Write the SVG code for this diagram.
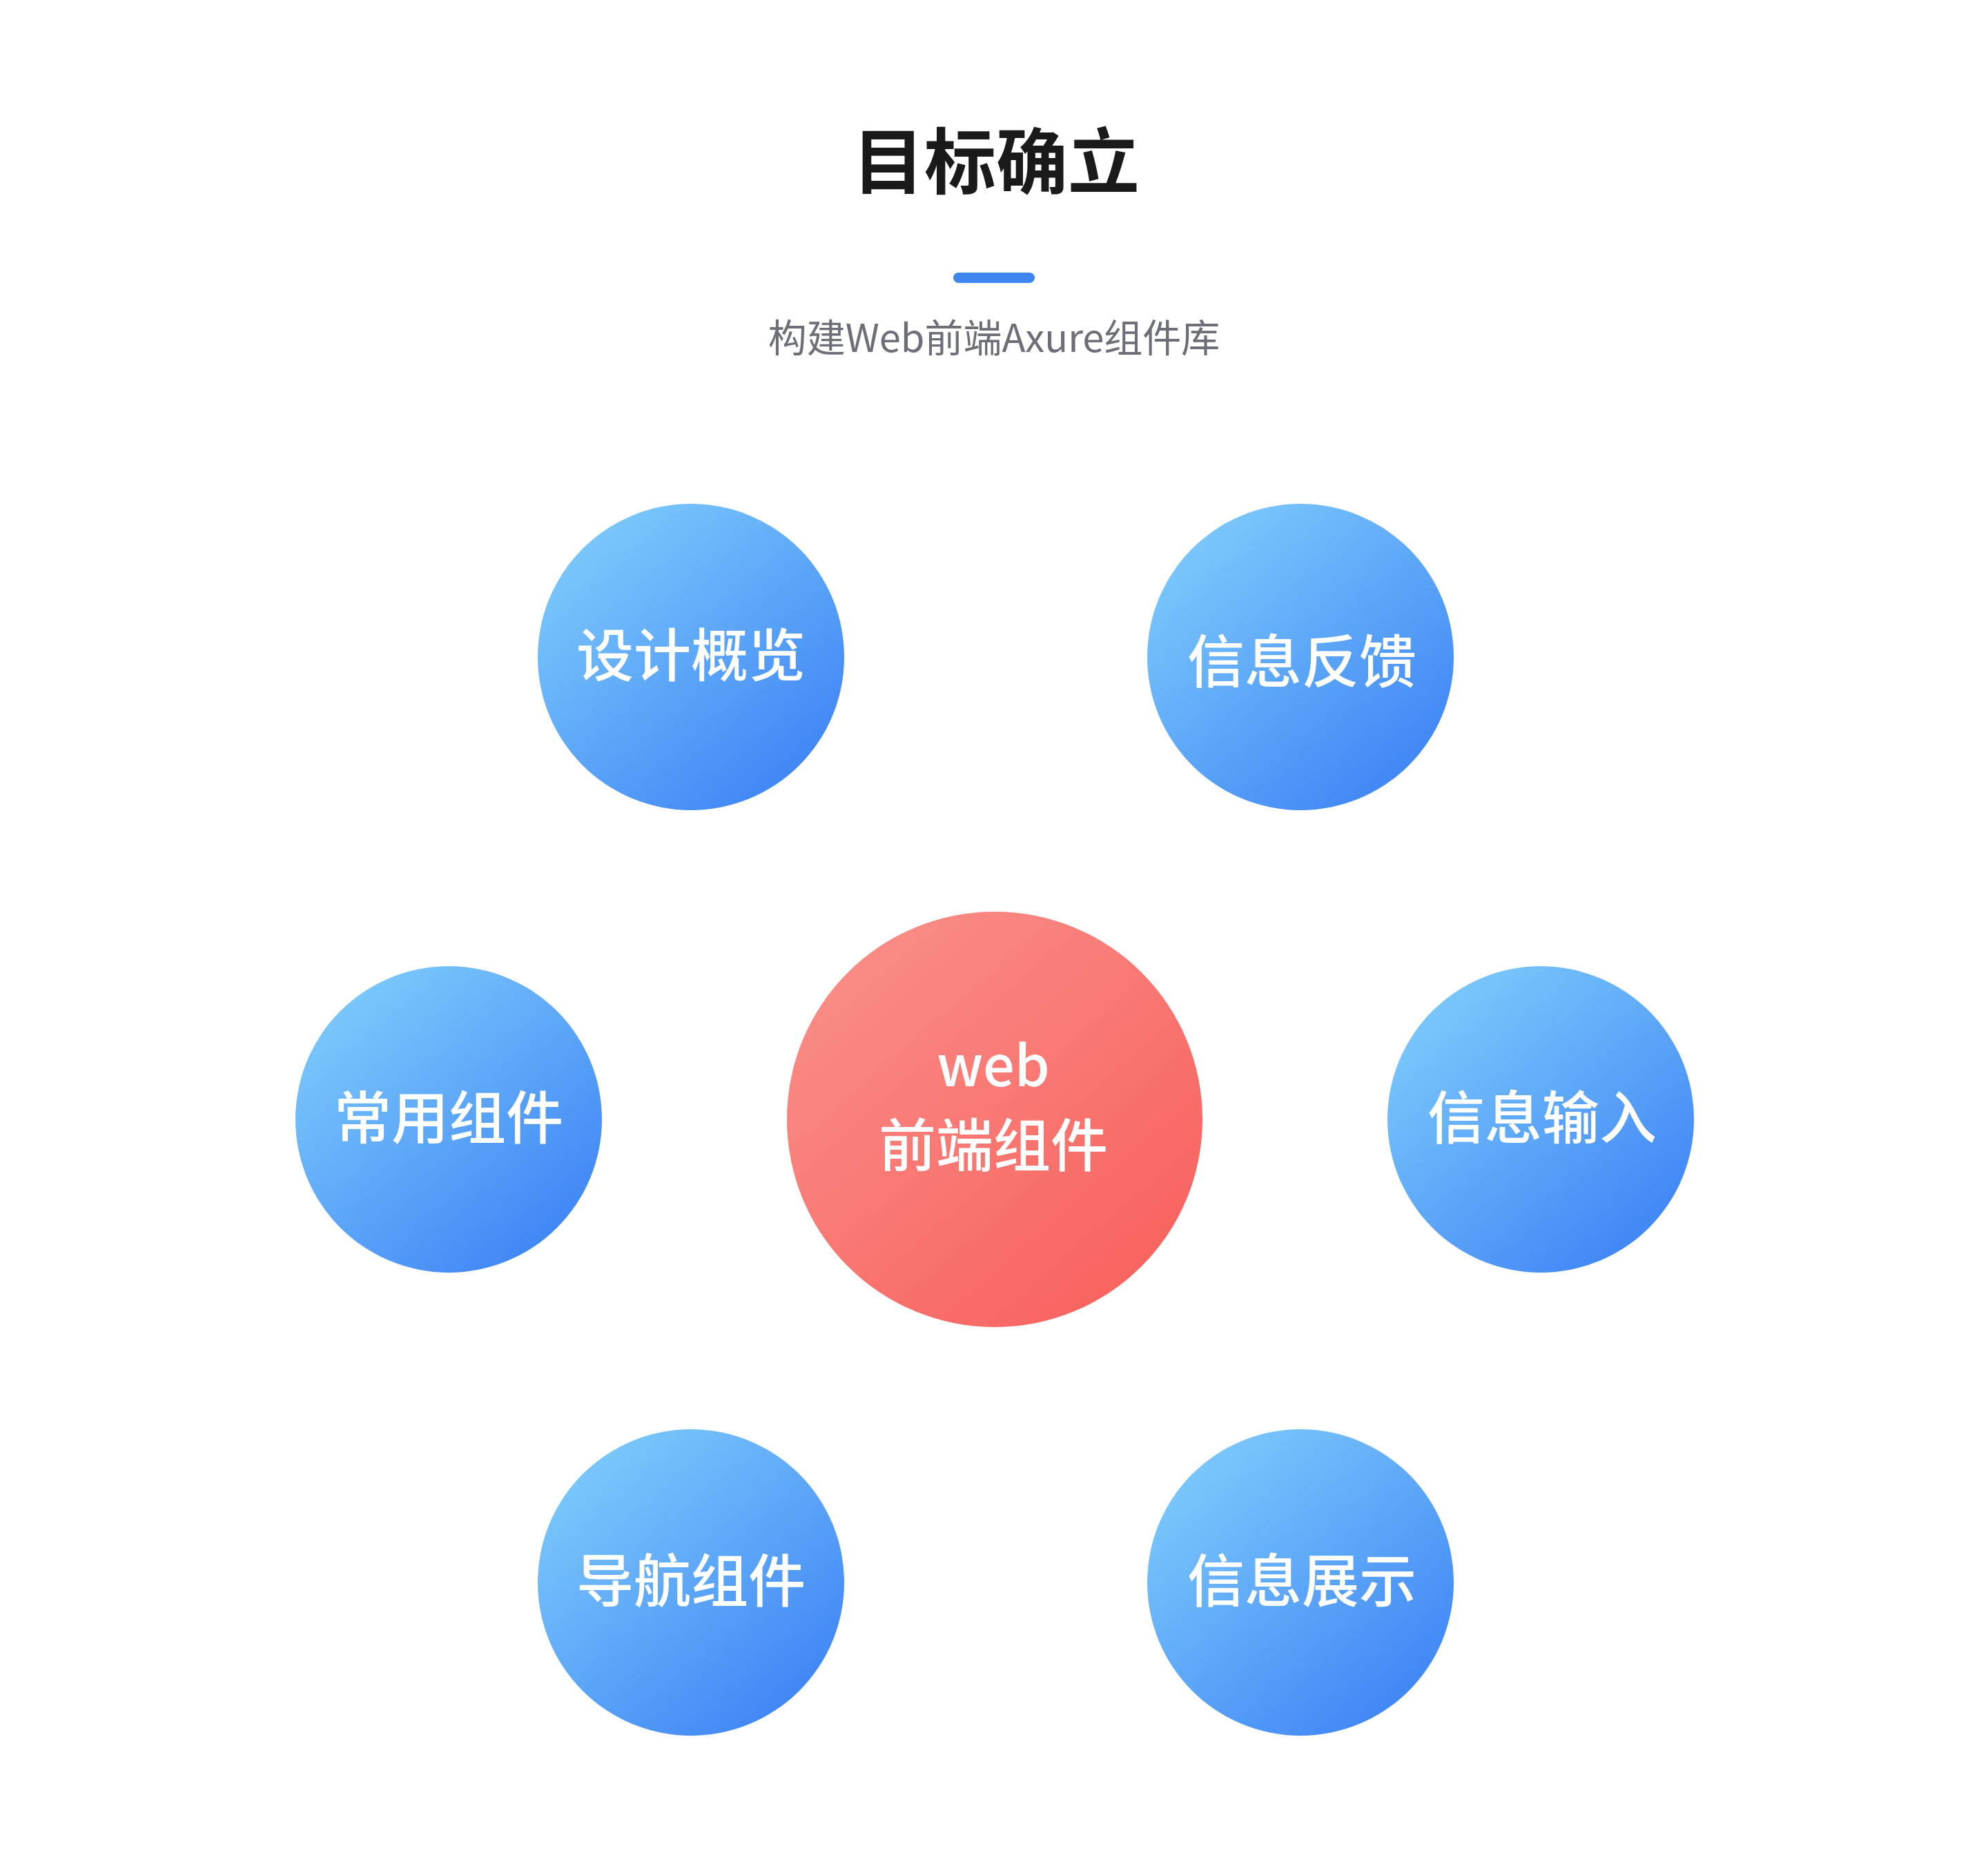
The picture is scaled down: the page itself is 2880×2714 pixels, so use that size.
<svg xmlns="http://www.w3.org/2000/svg" width="2880" height="2714" viewBox="0 0 2880 2714">
<defs>
<linearGradient id="gBlue" x1="0.15" y1="0.1" x2="0.85" y2="0.9">
<stop offset="0" stop-color="#7bc8fb"/>
<stop offset="1" stop-color="#3f86f5"/>
</linearGradient>
<linearGradient id="gRed" x1="0.15" y1="0.1" x2="0.85" y2="0.9">
<stop offset="0" stop-color="#f98c86"/>
<stop offset="1" stop-color="#f8635f"/>
</linearGradient>
<style>
.t{font-family:"Noto Sans CJK SC","Noto Sans",sans-serif;text-anchor:middle}
.lbl{font-size:83px;font-weight:500;fill:#ffffff}
.blue{fill:url(#gBlue)}
</style>
</defs>
<rect width="2880" height="2714" fill="#ffffff"/>
<g id="header">
<text class="t" x="1443" y="273" font-size="104" font-weight="700" fill="#1a1a1a">目标确立</text>
<rect x="1381" y="395" width="118" height="15" rx="7.5" fill="#3d86f0"/>
<text class="t" x="1440" y="510" font-size="56" fill="#6e6e78">构建Web前端Axure组件库</text>
</g>
<g id="connectors"></g>
<g id="node-center">
<circle cx="1441" cy="1622" r="301" fill="url(#gRed)"/>
<text class="t" x="1439" y="1574" font-size="81" font-weight="500" fill="#ffffff">web</text>
<text class="t lbl" x="1439" y="1690">前端组件</text>
</g>
<g id="node-sheji">
<circle class="blue" cx="1001" cy="952" r="222"/>
<text class="t lbl" x="1001" y="980">设计概览</text>
</g>
<g id="node-fankui">
<circle class="blue" cx="1884" cy="952" r="222"/>
<text class="t lbl" x="1886" y="989">信息反馈</text>
</g>
<g id="node-changyong">
<circle class="blue" cx="650" cy="1622" r="222"/>
<text class="t lbl" x="650" y="1650">常用组件</text>
</g>
<g id="node-shuru">
<circle class="blue" cx="2232" cy="1622" r="222"/>
<text class="t lbl" x="2234" y="1650">信息输入</text>
</g>
<g id="node-daohang">
<circle class="blue" cx="1001" cy="2293" r="222"/>
<text class="t lbl" x="1001" y="2321">导航组件</text>
</g>
<g id="node-zhanshi">
<circle class="blue" cx="1884" cy="2293" r="222"/>
<text class="t lbl" x="1886" y="2321">信息展示</text>
</g>
</svg>
